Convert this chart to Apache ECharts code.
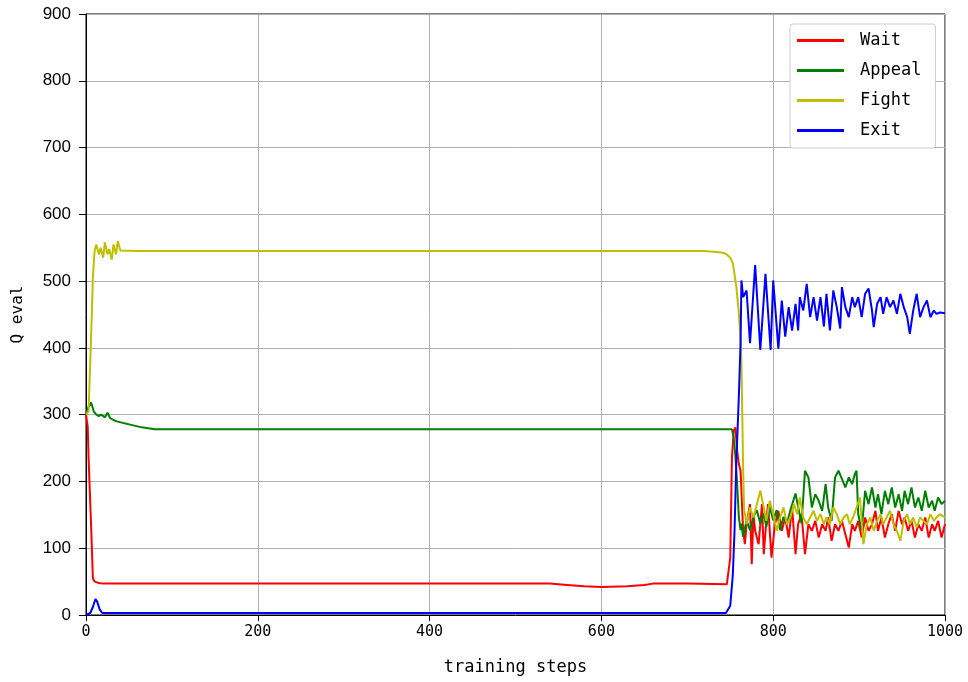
<!DOCTYPE html>
<html>
<head>
<meta charset="utf-8">
<script src="https://cdn.jsdelivr.net/npm/echarts@6/dist/echarts.min.js"></script>
<style>html,body{margin:0;padding:0;background:#fff}#c{width:968px;height:682px}</style>
</head>
<body>
<div id="c"></div>
<script>
const seriesNames = ['Wait', 'Appeal', 'Fight', 'Exit'];
const xTicks = [0, 200, 400, 600, 800, 1000];
const yTicks = [0, 100, 200, 300, 400, 500, 600, 700, 800, 900];

const waitSteps = [0,2,3,5,6,8,10,15,20,100,500,540,560,580,600,630,650,660,700,746,748,750,752,754,756,758,760,762,763,765,767,769,773,775,777,779,783,787,789,792,794,798,802,806,810,814,818,822,826,829,833,837,841,845,849,853,857,861,864,868,872,876,880,884,888,892,895,899,903,907,911,915,919,922,926,930,934,938,942,946,950,953,957,961,965,969,973,977,981,985,988,992,996,1000];
const waitVals  = [300,282,235,235,132,55,50,48,47,47,47,47,45,43,42,43,45,47,47,46,66,86,236,276,281,246,226,216,186,126,106,136,166,76,151,126,106,166,91,141,166,86,136,156,126,146,116,161,91,136,151,91,136,126,141,116,136,126,146,111,136,126,141,121,101,136,126,141,116,146,126,136,156,126,146,116,136,151,126,156,136,146,126,141,116,136,126,146,116,136,126,141,116,136];

const appealSteps = [0,3,6,9,12,15,18,22,25,28,32,36,45,55,65,80,752,754,756,758,760,762,763,765,769,773,777,781,785,789,792,796,800,804,808,812,816,820,826,829,833,837,841,845,849,853,857,861,864,868,872,876,880,884,888,892,895,897,899,903,907,911,915,919,922,926,930,934,938,942,946,950,953,957,961,965,969,973,977,981,985,988,992,996,1000];
const appealVals  = [300,312,318,305,300,298,300,296,303,295,292,290,287,284,281,278,278,266,237,197,147,127,137,117,142,127,147,157,137,152,132,162,142,157,127,147,137,157,182,162,137,216,206,161,181,171,156,196,161,141,206,216,204,191,206,196,211,216,151,127,186,166,191,161,181,151,186,166,191,161,181,156,186,166,191,161,176,156,186,161,171,156,176,166,171];

const fightSteps = [0,3,5,7,8,10,12,15,17,20,22,25,27,30,32,35,37,40,60,720,740,745,750,753,757,760,762,763,764,765,766,769,773,777,781,785,789,792,796,800,804,808,812,816,820,824,828,831,835,839,843,847,851,855,859,862,866,870,874,878,882,886,889,893,897,901,905,909,913,917,921,925,928,932,936,940,944,948,952,956,959,963,967,971,975,979,983,987,990,994,1000];
const fightVals  = [300,305,380,460,505,545,555,540,550,535,558,540,548,532,555,540,560,546,545,545,543,541,535,527,493,452,412,380,300,220,160,136,161,146,166,186,161,141,171,151,126,146,161,136,146,166,151,176,146,136,146,156,141,151,136,146,136,161,151,136,146,151,136,146,161,176,106,136,146,126,141,151,136,146,156,136,126,111,141,151,136,146,131,146,141,136,151,141,146,151,146];

const exitSteps = [0,5,8,11,13,16,19,25,745,747,750,753,755,757,760,762,763,765,769,773,779,785,791,797,800,806,810,814,818,822,826,829,831,835,839,843,847,851,855,859,862,866,870,874,878,880,884,888,892,895,899,903,907,911,915,917,921,925,928,932,936,940,944,948,952,956,959,963,967,971,975,979,983,987,990,994,1000];
const exitVals  = [0,3,12,24,20,8,3,3,3,4,14,60,127,227,327,407,501,476,486,407,524,397,511,397,501,399,471,417,461,426,466,426,476,456,496,446,476,441,476,432,481,426,486,461,429,491,461,446,476,461,476,446,481,489,456,431,466,476,451,476,461,471,451,481,461,446,421,456,481,446,461,471,446,456,451,453,452];

const colors = ['#ff0000', '#008000', '#bfbf00', '#0000ff'];
const stepsList = [waitSteps, appealSteps, fightSteps, exitSteps];
const valsList = [waitVals, appealVals, fightVals, exitVals];

const chart = echarts.init(document.getElementById('c'), null, {renderer: 'canvas'});
const series = seriesNames.map((name, i) => ({
  name: name,
  type: 'line',
  data: stepsList[i].map((s, j) => [s, valsList[i][j]]),
  showSymbol: false,
  symbol: 'none',
  lineStyle: {color: colors[i], width: 2},
  itemStyle: {color: colors[i]},
  animation: false
}));

chart.setOption({
  animation: false,
  backgroundColor: '#fff',
  grid: {left: 86, right: 23, top: 14, bottom: 67, show: true, borderColor: '#000', borderWidth: 1, backgroundColor: 'transparent'},
  legend: {
    show: true,
    data: seriesNames.map(n => ({name: n, icon: 'rect'})),
    orient: 'vertical',
    left: 790, top: 24,
    itemWidth: 47, itemHeight: 3, itemGap: 13,
    padding: [8, 14, 9, 7],
    backgroundColor: '#fff',
    borderColor: '#cccccc', borderWidth: 1, borderRadius: 3,
    textStyle: {fontFamily: 'DejaVu Sans Mono', fontSize: 17, color: '#000', padding: [0, 0, 0, 11]}
  },
  xAxis: {
    type: 'value', min: 0, max: 1000, interval: 200,
    name: 'training steps', nameLocation: 'middle', nameGap: 44,
    nameTextStyle: {fontFamily: 'DejaVu Sans Mono', fontSize: 17, color: '#000'},
    axisLine: {show: true, onZero: false, lineStyle: {color: '#000', width: 1}},
    axisTick: {show: true, length: 6, lineStyle: {color: '#000'}},
    axisLabel: {margin: 10, fontFamily: 'DejaVu Sans Mono', fontSize: 15, color: '#000',
      formatter: v => xTicks.includes(v) ? String(v) : ''},
    splitLine: {show: true, lineStyle: {color: '#b0b0b0', width: 1}}
  },
  yAxis: {
    type: 'value', min: 0, max: 900, interval: 100,
    name: 'Q eval', nameLocation: 'middle', nameGap: 60,
    nameTextStyle: {fontFamily: 'DejaVu Sans Mono', fontSize: 16, color: '#000'},
    axisLine: {show: true, onZero: false, lineStyle: {color: '#000', width: 1}},
    axisTick: {show: true, length: 7, lineStyle: {color: '#000'}},
    axisLabel: {margin: 15, fontFamily: 'Liberation Sans', fontSize: 17, color: '#000',
      formatter: v => yTicks.includes(v) ? String(v) : ''},
    splitLine: {show: true, lineStyle: {color: '#b0b0b0', width: 1}}
  },
  series: series
});
</script>
</body>
</html>
